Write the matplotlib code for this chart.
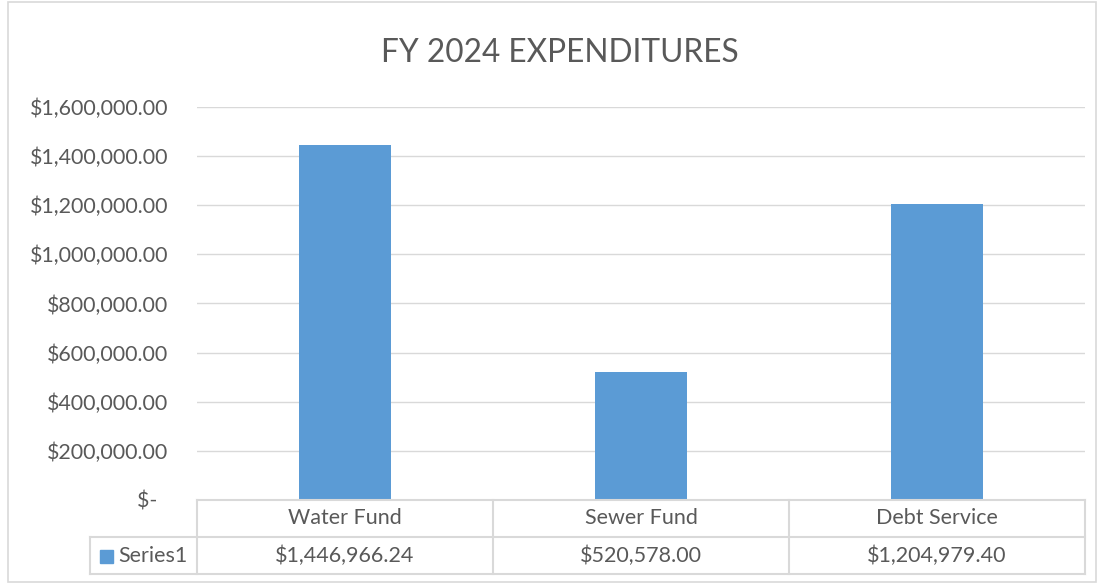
import matplotlib
matplotlib.use("Agg")
import matplotlib.pyplot as plt
from matplotlib.patches import Rectangle
from matplotlib.lines import Line2D

categories = ["Water Fund", "Sewer Fund", "Debt Service"]
values = [1446966.24, 520578.00, 1204979.40]
series_name = "Series1"
y_ticks = [0, 200000, 400000, 600000, 800000, 1000000, 1200000, 1400000, 1600000]
title = "FY 2024 EXPENDITURES"

bar_color = "#5B9BD5"
text_color = "#595959"
line_color = "#D9D9D9"

plt.rcParams['font.family'] = ['Lato', 'DejaVu Sans']

W, H = 1101, 586
fig = plt.figure(figsize=(W / 100, H / 100), dpi=100)

def fx(px):
    return px / W

def fy(py):
    return 1 - py / H

# plot area in pixels
left, right, top, bottom = 197, 1085, 107, 500
ax = fig.add_axes([fx(left), fy(bottom), fx(right) - fx(left), fy(top) - fy(bottom)])

x = list(range(len(categories)))
ax.bar(x, values, width=0.31, color=bar_color, zorder=3)
ax.set_xlim(-0.5, len(categories) - 0.5)
ax.set_ylim(0, 1600000)
ax.set_yticks(y_ticks)

def money(v):
    if v == 0:
        return "$-  "
    return "${:,.2f}".format(v)

ax.set_yticklabels([money(v) for v in y_ticks], color=text_color, fontsize=15.4)
ax.tick_params(axis='y', length=0, pad=20.5)
ax.set_xticks([])
ax.grid(axis='y', color=line_color, linewidth=1, zorder=0)
for s in ax.spines.values():
    s.set_visible(False)

fig.text(fx(560), fy(53), title, ha='center', va='center', fontsize=22.8, color=text_color)

# data table under the plot
row1, row2, row3 = 500, 537, 574
tab_left = 90
cell_w = (right - left) / len(categories)
col_edges = [left + i * cell_w for i in range(len(categories) + 1)]

def hline(y, x0, x1):
    fig.add_artist(Line2D([fx(x0), fx(x1)], [fy(y), fy(y)], color=line_color, lw=1.5))

def vline(xp, y0, y1):
    fig.add_artist(Line2D([fx(xp), fx(xp)], [fy(y0), fy(y1)], color=line_color, lw=1.5))

hline(row1, left, right)
hline(row2, tab_left, right)
hline(row3, tab_left, right)
vline(tab_left, row2, row3)
for ce in col_edges:
    vline(ce, row1, row3)

for i, (c, v) in enumerate(zip(categories, values)):
    cx = (col_edges[i] + col_edges[i + 1]) / 2
    fig.text(fx(cx), fy((row1 + row2) / 2), c, ha='center', va='center', fontsize=15.5, color=text_color)
    fig.text(fx(cx), fy((row2 + row3) / 2), "${:,.2f}".format(v), ha='center', va='center',
             fontsize=15.5, color=text_color)

fig.add_artist(Rectangle((fx(100), fy(563)), fx(13), fy(550) - fy(563), color=bar_color))
fig.text(fx(118), fy((row2 + row3) / 2), series_name, ha='left', va='center', fontsize=15.5, color=text_color)

# chart border
fig.add_artist(Rectangle((fx(8), fy(582)), fx(1088), fy(2) - fy(582), fill=False,
                         edgecolor=line_color, lw=1.2))

fig.savefig("out.png", dpi=100)
